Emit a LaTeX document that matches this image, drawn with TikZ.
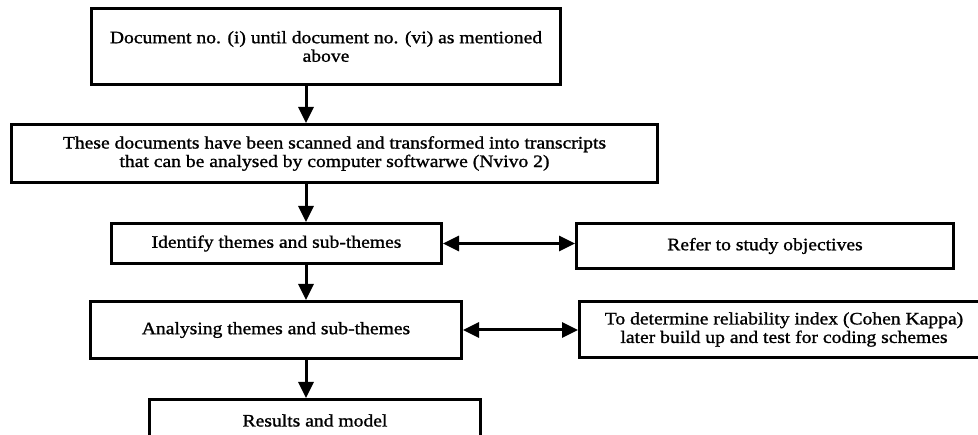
\documentclass[tikz,border=0pt]{standalone}
\usepackage{fontspec}
\setmainfont{Liberation Serif}[FakeStretch=1.12,FakeBold=1.2]
\usetikzlibrary{arrows.meta}
\begin{document}
\begin{tikzpicture}[x=1pt,y=-1pt,
  box/.style={draw,line width=3pt,align=center,inner sep=0pt,anchor=north west,
    font=\fontsize{17.5}{18.5}\selectfont},
  arr/.style={line width=3pt,-{Triangle[width=15pt,length=16pt]}},
  darr/.style={line width=3pt,{Triangle[width=15pt,length=16pt]}-{Triangle[width=15pt,length=16pt]}}]
\clip (0,0) rectangle (978,435);
\node[box,minimum width=469pt,minimum height=76pt] (b1) at (90,7)
  {Document no. (i) until document no. (vi) as mentioned\\above};
\node[box,minimum width=646pt,minimum height=58pt] (b2) at (10,123)
  {These documents have been scanned and transformed into transcripts\\that can be analysed by computer softwarwe (Nvivo 2)};
\node[box,minimum width=330pt,minimum height=40pt] (b3) at (110,222)
  {Identify themes and sub-themes};
\node[box,minimum width=377pt,minimum height=45pt] (b6) at (575,222)
  {Refer to study objectives};
\node[box,minimum width=371pt,minimum height=57pt] (b4) at (89,300)
  {Analysing themes and sub-themes};
\node[box,minimum width=409pt,minimum height=56pt] (b7) at (578,300)
  {To determine reliability index (Cohen Kappa)\\later build up and test for coding schemes};
\node[box,minimum width=331pt,minimum height=42pt] (b5) at (148,398)
  {Results and model};
\coordinate (vx) at (306,0);
\draw[arr] (vx |- b1.south) -- (vx |- b2.north);
\draw[arr] (vx |- b2.south) -- (vx |- b3.north);
\draw[arr] (vx |- b3.south) -- (vx |- b4.north);
\draw[arr] (vx |- b4.south) -- (vx |- b5.north);
\draw[darr] (b3.east) -- (b3.east -| b6.west);
\draw[darr] (b4.east) -- (b4.east -| b7.west);
\end{tikzpicture}
\end{document}
